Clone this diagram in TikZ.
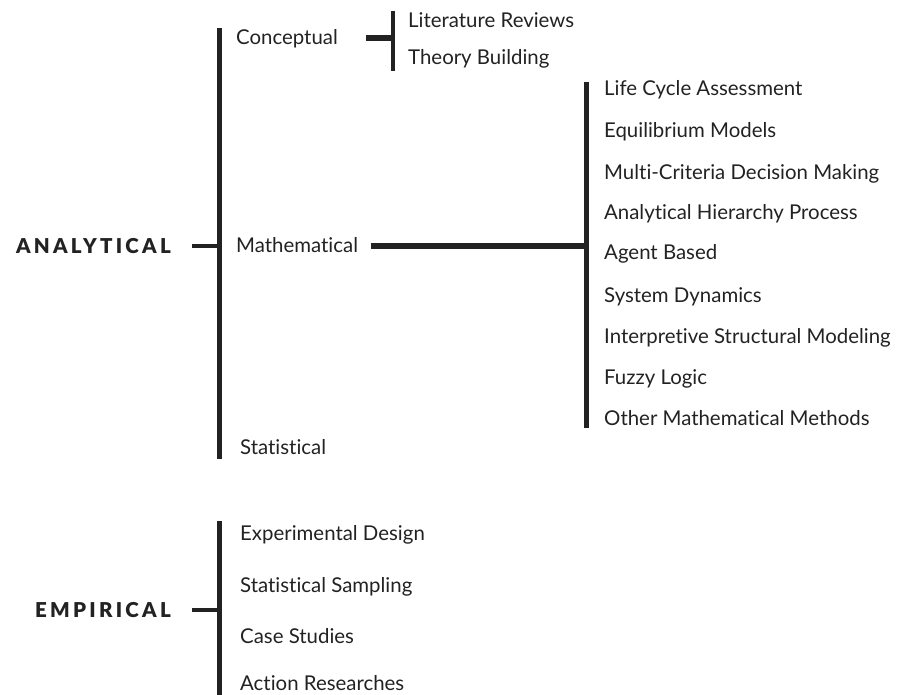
\documentclass[tikz,border=0pt]{standalone}
\usepackage{fontspec}
\setmainfont[Ligatures=NoCommon]{Lato}
\newfontfamily\headfont[LetterSpace=16]{Lato Black}
\definecolor{ink}{HTML}{222222}
\begin{document}
\begin{tikzpicture}[x=1pt,y=-1pt,
  item/.style={inner sep=0pt, anchor=west, text height=14pt, text depth=0pt,
    font=\fontsize{20.4}{22}\selectfont, text=ink},
  head/.style={inner sep=0pt, anchor=east, text height=14.5pt, text depth=0pt,
    font=\fontsize{20.5}{22}\headfont, text=ink},
  bar/.style={line width=4.5pt, draw=ink},
  link/.style={line width=4.5pt, draw=ink},
  thicklink/.style={line width=5.5pt, draw=ink}]
\useasboundingbox (0,0) rectangle (900,695);

% top-level categories (right-aligned to their connectors)
\node[head] (ana) at (171,246) {ANALYTICAL};
\node[head] (emp) at (171,610) {EMPIRICAL};

% analytical branch
\coordinate (anaTop) at (219.5,28);
\coordinate (anaBot) at (219.5,459);
\draw[bar] (anaTop) -- (anaBot);

\node[item] (con) at (236,38)  {Conceptual};
\node[item] (mat) at (236,246) {Mathematical};
\node[item] (sta) at (240,447) {Statistical};

% conceptual sub-branch
\coordinate (conTop) at (393,11);
\coordinate (conBot) at (393,71);
\draw[bar] (conTop) -- (conBot);
\node[item] (lit) at (408,21) {Literature Reviews};
\node[item] (the) at (408,58) {Theory Building};

% mathematical sub-branch
\coordinate (matTop) at (586.5,82);
\coordinate (matBot) at (586.5,428);
\draw[bar] (matTop) -- (matBot);
\node[item] (m1) at (604,89)  {Life Cycle Assessment};
\node[item] (m2) at (604,131) {Equilibrium Models};
\node[item] (m3) at (604,173) {Multi-Criteria Decision Making};
\node[item] (m4) at (604,213) {Analytical Hierarchy Process};
\node[item] (m5) at (604,253) {Agent Based};
\node[item] (m6) at (604,295) {System Dynamics};
\node[item] (m7) at (604,336) {Interpretive Structural Modeling};
\node[item] (m8) at (604,377) {Fuzzy Logic};
\node[item] (m9) at (604,418) {Other Mathematical Methods};

% empirical branch
\coordinate (empTop) at (219.5,521);
\coordinate (empBot) at (219.5,700);
\draw[bar] (empTop) -- (empBot);
\node[item] (e1) at (240,533) {Experimental Design};
\node[item] (e2) at (240,585) {Statistical Sampling};
\node[item] (e3) at (240,636) {Case Studies};
\node[item] (e4) at (240,683) {Action Researches};

% connectors into the bars
\draw[link] ([xshift=21pt]ana.east) -- (ana.east -| anaTop);
\draw[link] ([xshift=21pt]emp.east) -- (emp.east -| empTop);
\draw[thicklink] ([xshift=-27pt]con.east -| conTop) -- (con.east -| conTop);
\draw[thicklink] ([xshift=13pt]mat.east) -- (mat.east -| matTop);
\end{tikzpicture}
\end{document}
